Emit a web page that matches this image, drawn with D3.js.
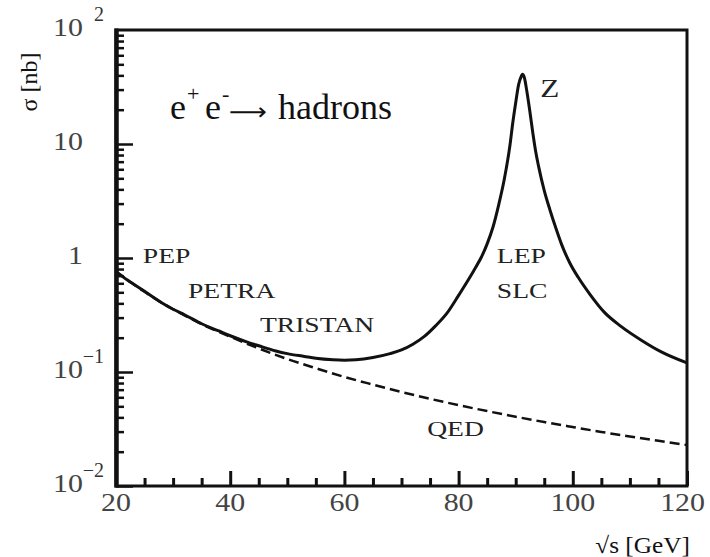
<!DOCTYPE html>
<html><head><meta charset="utf-8">
<script src="https://cdn.jsdelivr.net/npm/d3@7"></script>
<style>html,body{margin:0;padding:0;background:#fff}</style>
</head><body>
<svg id="chart" width="710" height="557"></svg>
<script>
// ---- data ----
const hadronX = [20,22,25,28,30,32,35,38,40,43,45,48,50,53,55,58,60,62,65,68,70,72,74,76,78,80,82,83,84,85,86,87,88,89,89.5,90,90.5,91,91.2,91.5,92,92.5,93,93.5,94,95,96,97,98,99.5,101,103,105.5,108.5,112,115.5,120];
const hadronY = [0.76,0.64,0.51,0.405,0.355,0.318,0.265,0.229,0.208,0.183,0.170,0.153,0.145,0.137,0.132,0.128,0.127,0.128,0.134,0.145,0.156,0.175,0.205,0.255,0.33,0.47,0.68,0.83,1.02,1.33,1.85,2.9,4.9,9.8,15.5,23,33,39.5,41,38.5,28,19,12.5,8.6,6.4,3.9,2.64,1.85,1.33,0.90,0.67,0.48,0.335,0.25,0.19,0.15,0.12];
const qedX = [20,25,30,35,40,45,50,55,60,65,70,75,80,85,90,95,100,105,110,115,120];
const qedY = [0.76,0.505,0.355,0.263,0.204,0.161,0.130,0.108,0.0905,0.0775,0.0668,0.0582,0.0512,0.0454,0.0405,0.0364,0.0329,0.0298,0.0272,0.0249,0.0229];
const xTicks = [20,40,60,80,100,120];
const xTickLabels = ["20","40","60","80","100","120"];
const xMinorTicks = [25,30,35,45,50,55,65,70,75,85,90,95,105,110,115];
const yTicks = [0.01,0.1,1,10,100];
const yTickBase = ["10","10","1","10","10"];
const yTickExp = ["-2","-1","","","2"];
const yMinorTicks = [];
[0.01,0.1,1,10].forEach(d => { for (let k=2;k<=9;k++) yMinorTicks.push(+(d*k).toPrecision(3)); });
const labelTexts = ["PEP","PETRA","TRISTAN","LEP","SLC","QED","Z"];
const labelX = [24.7,32.6,45.2,86.7,86.7,74.5,94.3];
const labelY = [0.90,0.446,0.224,0.90,0.446,0.0275,25.8];
const xTitle = "\u221As [GeV]";
const yTitle = "\u03C3 [nb]";

// ---- layout ----
const svg = d3.select("#chart");
const x = d3.scaleLinear().domain([20,120]).range([116,687]);
const y = d3.scaleLog().domain([0.01,100]).range([486,30]);
const serif = "'Liberation Serif','Times New Roman',serif";
const ink = "#111";

// curves
const line = d3.line().x(d=>x(d[0])).y(d=>y(d[1])).curve(d3.curveMonotoneX);
svg.append("path").datum(d3.zip(qedX,qedY)).attr("d",line)
  .attr("fill","none").attr("stroke",ink).attr("stroke-width",2.5).attr("stroke-dasharray","10,5");
svg.append("path").datum(d3.zip(hadronX,hadronY)).attr("d",line)
  .attr("fill","none").attr("stroke",ink).attr("stroke-width",3).attr("stroke-linejoin","round");

// ticks via d3 axes (pointing inward)
function styleAxis(g, w){
  g.select(".domain").remove();
  g.selectAll(".tick line").attr("stroke",ink).attr("stroke-width",w);
  g.selectAll(".tick text").remove();
}
svg.append("g").attr("transform","translate(0,486)")
  .call(d3.axisBottom(x).tickValues(xTicks).tickSizeInner(-15).tickSizeOuter(0))
  .call(g=>styleAxis(g,3));
svg.append("g").attr("transform","translate(0,486)")
  .call(d3.axisBottom(x).tickValues(xMinorTicks).tickSizeInner(-8).tickSizeOuter(0))
  .call(g=>styleAxis(g,3));
svg.append("g").attr("transform","translate(116,0)")
  .call(d3.axisLeft(y).tickValues(yTicks.slice(0,4)).tickSizeInner(-17).tickSizeOuter(0))
  .call(g=>styleAxis(g,2.5));
svg.append("g").attr("transform","translate(116,0)")
  .call(d3.axisLeft(y).tickValues(yMinorTicks).tickSizeInner(-8).tickSizeOuter(0))
  .call(g=>styleAxis(g,2.5));

// frame
svg.append("rect").attr("x",x(20)).attr("y",y(100)).attr("width",x(120)-x(20)).attr("height",y(0.01)-y(100))
  .attr("fill","none").attr("stroke",ink).attr("stroke-width",3);
svg.append("line").attr("x1",x(20)+0.5).attr("x2",x(20)+0.5).attr("y1",y(100)-1.5).attr("y2",y(0.01)+1.5)
  .attr("stroke",ink).attr("stroke-width",4.5);

function stretch(sel, f){
  sel.each(function(){ const w=this.getComputedTextLength(); d3.select(this).attr("textLength",w*f).attr("lengthAdjust","spacingAndGlyphs"); });
}

// x tick labels
xTicks.forEach((v,i)=>{
  const t = svg.append("text").attr("y",511).attr("font-family",serif).attr("font-size",26)
    .attr("fill","#444").attr("text-anchor","middle").text(xTickLabels[i]);
  const w = t.node().getComputedTextLength()*1.15;
  t.attr("textLength",w).attr("lengthAdjust","spacingAndGlyphs")
   .attr("x",Math.min(x(v), 705 - w/2));
});

// y tick labels with exponents
yTicks.forEach((v,i)=>{
  const yy = y(v)+5.5;
  const t = svg.append("text").attr("x",83).attr("y",yy).attr("font-family",serif).attr("font-size",26)
    .attr("fill","#444").attr("text-anchor","end").text(yTickBase[i]);
  stretch(t,1.15);
  if (yTickExp[i]) {
    svg.append("text").attr("x",104).attr("y",yy-15).attr("font-family",serif).attr("font-size",20)
      .attr("fill","#333").attr("text-anchor","end").text(yTickExp[i].replace("-","\u2212"));
  }
});

// axis titles
svg.append("text").attr("x",690).attr("y",553).attr("text-anchor","end")
  .attr("font-family",serif).attr("font-size",23).attr("fill",ink).text(xTitle).call(stretch,1.1);
svg.append("text").attr("transform","translate(37,82) rotate(-90)").attr("text-anchor","middle")
  .attr("font-family",serif).attr("font-size",24).attr("fill",ink).text(yTitle);

// process title
const tt = svg.append("text").attr("font-family",serif).attr("font-size",36).attr("fill",ink);
tt.append("tspan").attr("x",170).attr("y",119).text("e");
tt.append("tspan").attr("x",187).attr("y",101).attr("font-size",22).text("+");
tt.append("tspan").attr("x",205).attr("y",119).text("e");
tt.append("tspan").attr("x",222).attr("y",101).attr("font-size",22).text("-");
tt.append("tspan").attr("x",278).attr("y",119).text("hadrons");
const arrow = svg.append("text").attr("font-family","'DejaVu Sans'").attr("font-size",24)
  .attr("fill",ink).text("\u27F6");
const bb = arrow.node().getBBox();
const sx = 38/(bb.width||38);
arrow.attr("transform",`translate(${229 - bb.x*sx},120) scale(${sx},1)`);

// annotations
labelTexts.forEach((s,i)=>{
  const big = s==="Z";
  const t = svg.append("text").attr("x",x(labelX[i])).attr("y",y(labelY[i]))
    .attr("font-family",serif).attr("font-size",big?26:20).attr("fill","#222").text(s);
  stretch(t, big?1.2:1.38);
});
</script>
</body></html>
